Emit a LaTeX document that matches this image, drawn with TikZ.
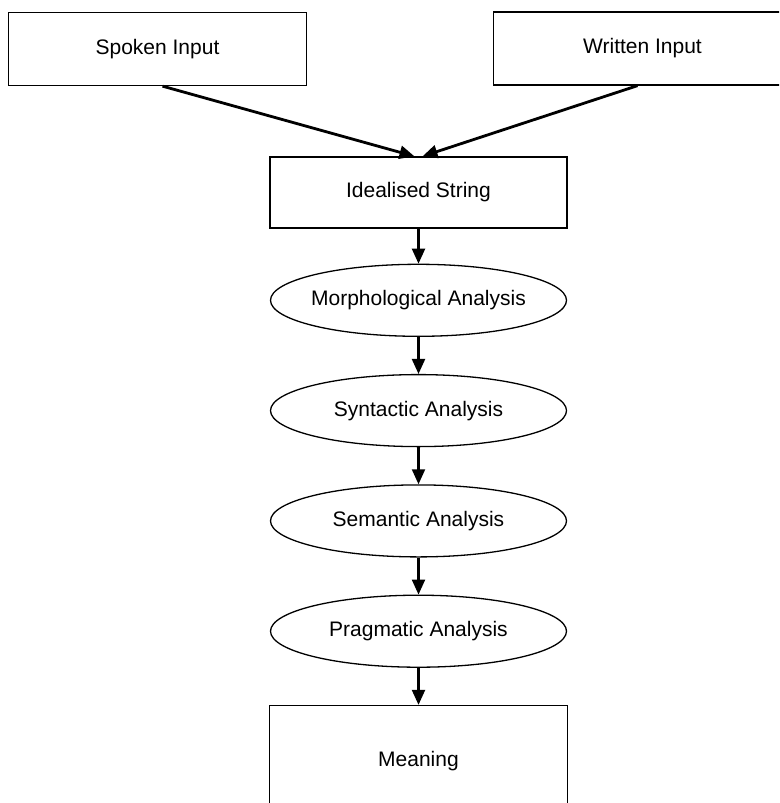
\documentclass[tikz,border=0pt]{standalone}
\usepackage{fontspec}
\setmainfont{Liberation Sans}
\usetikzlibrary{arrows.meta,positioning,shapes.geometric}

\begin{document}
\begin{tikzpicture}[
    x=1pt, y=-1pt,
    node distance=37pt,
    box/.style={rectangle, draw, line width=1.3pt, minimum width=298pt, minimum height=73pt, inner sep=0pt, font=\fontsize{21}{25}\selectfont},
    stage/.style={ellipse, draw, line width=1.3pt, minimum width=296pt, minimum height=72pt, inner sep=0pt, inner xsep=-12pt, font=\fontsize{21}{25}\selectfont},
    arrow/.style={-{Triangle[length=15pt,width=13pt]}, line width=2.2pt}
]
\path[use as bounding box, clip] (0,0) rectangle (779,803);
\node[box] (spoken) at (157.5,49) {Spoken Input};
\node[box] (written) at (642.5,48.5) {Written Input};
\node[box, minimum height=71pt, minimum width=297pt] (ideal) at (418.5,192.5) {Idealised String};
\node[stage, below=35pt of ideal] (morph) {Morphological Analysis};
\node[stage, below=of morph] (synt) {Syntactic Analysis};
\node[stage, below=of synt] (sem) {Semantic Analysis};
\node[stage, below=of sem] (prag) {Pragmatic Analysis};
\node[box, minimum height=112pt, below=of prag] (meaning) {Meaning};

\draw[arrow, line width=2.8pt] ([xshift=5pt]spoken.south) -- ([xshift=-4pt]ideal.north);
\draw[arrow, line width=2.8pt] ([xshift=-5pt]written.south) -- ([xshift=4pt]ideal.north);
\draw[arrow] (ideal) -- (morph);
\draw[arrow] (morph) -- (synt);
\draw[arrow] (synt) -- (sem);
\draw[arrow] (sem) -- (prag);
\draw[arrow] (prag) -- (meaning);
\end{tikzpicture}
\end{document}
